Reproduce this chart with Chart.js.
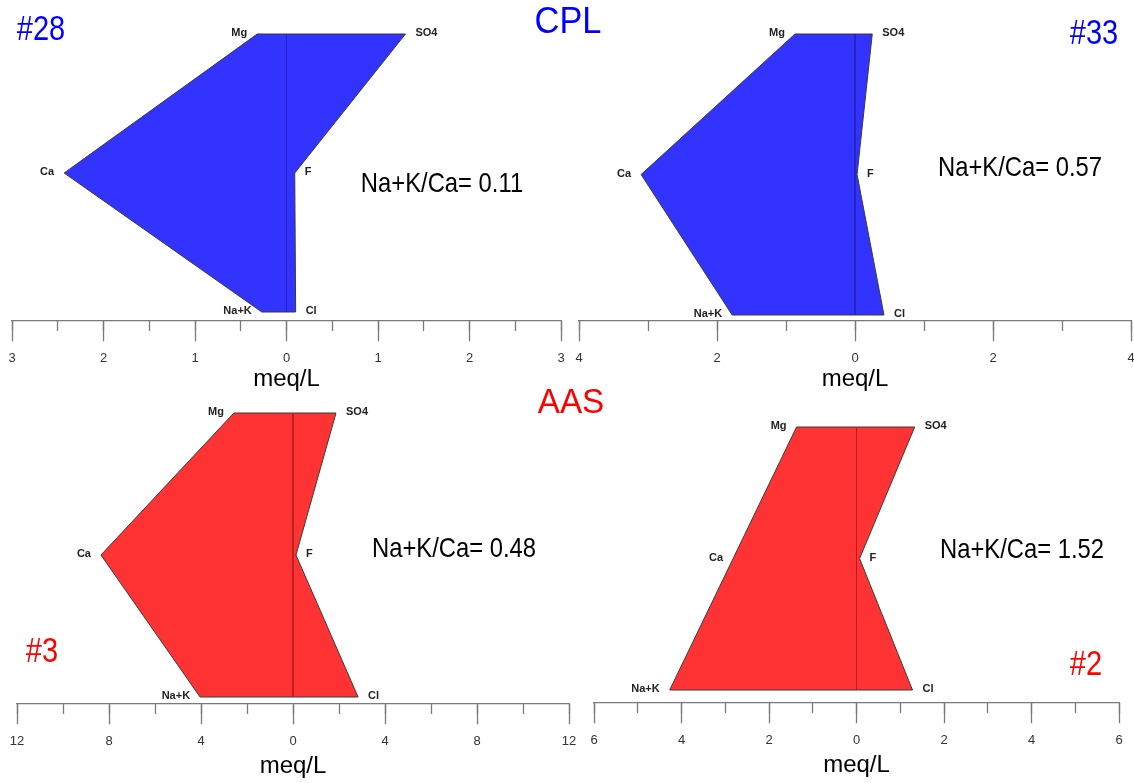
<!DOCTYPE html>
<html>
<head>
<meta charset="utf-8">
<script src="https://cdn.jsdelivr.net/npm/chart.js@4/dist/chart.umd.min.js"></script>
<style>
  body { margin: 0; background: #fff; }
  #wrap { position: relative; width: 1134px; height: 783px; overflow: hidden; }
  canvas { position: absolute; }
  .txt { position: absolute; transform: translate(-50%, -50%); white-space: nowrap; line-height: 1; }
  .narrow { font-family: "Liberation Sans Narrow", "Arial Narrow", "Liberation Sans", Arial, sans-serif; }
  .reg { font-family: "Liberation Sans", Arial, sans-serif; }
</style>
</head>
<body>
<div id="wrap"></div>
<script>
// ion order along each side, bottom to top
const cations = ['Na+K', 'Ca', 'Mg'];
const anions = ['Cl', 'F', 'SO4'];

// meq/L, same order as above
const s28Cations = [0.27, 2.43, 0.32];
const s28Anions = [0.10, 0.09, 1.30];
const s33Cations = [1.78, 3.10, 0.87];
const s33Anions = [0.42, 0.03, 0.25];
const s3Cations = [4.04, 8.35, 2.57];
const s3Anions = [2.83, 0.13, 1.87];
const s2Cations = [4.27, 2.82, 1.37];
const s2Anions = [1.28, 0.07, 1.33];

const ratioLabels = ['Na+K/Ca= 0.11', 'Na+K/Ca= 0.57', 'Na+K/Ca= 0.48', 'Na+K/Ca= 1.52'];
const sampleLabels = ['#28', '#33', '#3', '#2'];
const groupLabels = ['CPL', 'AAS'];

// axis ranges and tick steps per panel
const axisMax = [3, 4, 12, 6];
const majorStep = [1, 2, 4, 2];
const minorStep = [0.5, 1, 2, 1];

const BLUE = '#3333ff', RED = '#ff3333';

// page layout (pixels): axis ends, top/bottom vertex rows, axis line row
const panels = [
  { cations: s28Cations, anions: s28Anions, fill: BLUE, mid: '#2424b8',
    y0: 0, h: 392, xl: 12, xr: 561, top: 34, bot: 312, axis: 321 },
  { cations: s33Cations, anions: s33Anions, fill: BLUE, mid: '#2424b8',
    y0: 0, h: 392, xl: 579, xr: 1131, top: 34, bot: 315, axis: 321 },
  { cations: s3Cations, anions: s3Anions, fill: RED, mid: '#b41e1e',
    y0: 392, h: 391, xl: 17, xr: 569, top: 413, bot: 697, axis: 704 },
  { cations: s2Cations, anions: s2Anions, fill: RED, mid: '#b41e1e',
    y0: 392, h: 391, xl: 594, xr: 1119, top: 427, bot: 690, axis: 703 }
];

const wrap = document.getElementById('wrap');

// narrow text is faked with a horizontal squeeze (no condensed font installed)
function addText(str, x, y, size, color, cls, squeeze) {
  const d = document.createElement('div');
  d.className = 'txt ' + cls;
  d.textContent = str;
  d.style.left = x + 'px';
  d.style.top = y + 'px';
  d.style.fontSize = size + 'px';
  d.style.color = color;
  if (squeeze) d.style.transform = 'translate(-50%, -50%) scaleX(' + squeeze + ')';
  wrap.appendChild(d);
}

const ionLabels = {
  id: 'ionLabels',
  afterDatasetsDraw(chart) {
    const ctx = chart.ctx;
    const pts = chart.getDatasetMeta(0).data;
    const names = chart.options.plugins.ionLabels.names;
    ctx.save();
    ctx.font = 'bold 11px "Liberation Sans", Arial, sans-serif';
    ctx.fillStyle = '#222';
    ctx.textBaseline = 'middle';
    names.forEach((n, i) => {
      const p = pts[i];
      const left = i < 3;
      ctx.textAlign = left ? 'right' : 'left';
      ctx.fillText(n, p.x + (left ? -10 : 10), p.y - 1);
    });
    ctx.restore();
  }
};

panels.forEach((p, k) => {
  // canvas reaches 24px past each axis end so edge tick labels never squeeze the plot
  const bx = p.xl - 24, bw = p.xr - p.xl + 48, by = p.y0, bh = p.h;
  const cv = document.createElement('canvas');
  cv.style.left = bx + 'px';
  cv.style.top = by + 'px';
  cv.style.width = bw + 'px';
  cv.style.height = bh + 'px';
  cv.width = bw;
  cv.height = bh;
  wrap.appendChild(cv);

  const u = 2 / (p.bot - p.top); // y units per pixel
  const yMax = 3 + 6 * u;
  const yMin = 1 - (p.axis - p.bot) * u;
  const m = axisMax[k];

  // polygon: Mg, Ca, Na+K on the left, then Cl, F, SO4 on the right
  const poly = [
    { x: -p.cations[2], y: 3 },
    { x: -p.cations[1], y: 2 },
    { x: -p.cations[0], y: 1 },
    { x: p.anions[0], y: 1 },
    { x: p.anions[1], y: 2 },
    { x: p.anions[2], y: 3 },
    { x: -p.cations[2], y: 3 }
  ];

  const tickGrid = (len) => ({
    display: true, drawOnChartArea: false, drawTicks: true,
    tickLength: len, tickColor: '#7a7a7a', tickWidth: 1.3
  });

  new Chart(cv, {
    type: 'scatter',
    data: {
      datasets: [
        {
          data: poly, showLine: true, fill: 'shape', order: 2,
          backgroundColor: p.fill, borderColor: '#3a3a3a', borderWidth: 1,
          pointRadius: 0, tension: 0
        },
        {
          data: [{ x: 0, y: 3 }, { x: 0, y: 1 }], showLine: true, order: 1,
          borderColor: p.mid, borderWidth: 1, pointRadius: 0
        }
      ]
    },
    options: {
      responsive: false,
      animation: false,
      layout: {
        padding: {
          left: p.xl - bx,
          right: bx + bw - p.xr,
          top: p.top - 6 - by,
          bottom: by + bh - p.axis
        }
      },
      plugins: {
        legend: { display: false },
        tooltip: { enabled: false },
        ionLabels: { names: [cations[2], cations[1], cations[0], anions[0], anions[1], anions[2]] }
      },
      scales: {
        y: { display: false, min: yMin, max: yMax },
        x: {
          type: 'linear', axis: 'x', min: -m, max: m,
          position: { y: yMin },
          grid: tickGrid(20),
          border: { display: true, color: '#7a7a7a', width: 1.3 },
          ticks: {
            stepSize: majorStep[k], autoSkip: false, maxRotation: 0, padding: 10,
            color: '#333', font: { family: '"Liberation Sans", Arial, sans-serif', size: 13 },
            callback: (v) => Math.abs(v)
          }
        },
        xm: {
          type: 'linear', axis: 'x', min: -m, max: m,
          position: { y: yMin },
          grid: tickGrid(10),
          border: { display: false },
          ticks: { stepSize: minorStep[k], autoSkip: false, display: false }
        }
      }
    },
    plugins: [ionLabels]
  });

  const zero = (p.xl + p.xr) / 2;
  addText('meq/L', zero, p.axis + (k < 2 ? 57 : 61), 24, '#000', 'reg');
});

// ratio annotations
addText(ratioLabels[0], 442, 183, 28, '#000', 'narrow', 0.85);
addText(ratioLabels[1], 1020, 167, 28, '#000', 'narrow', 0.85);
addText(ratioLabels[2], 454, 548, 28, '#000', 'narrow', 0.85);
addText(ratioLabels[3], 1022, 549, 28, '#000', 'narrow', 0.85);

// sample numbers and group names
addText(sampleLabels[0], 41, 27, 35, '#0000ff', 'narrow', 0.83);
addText(sampleLabels[1], 1094, 31, 35, '#0000ff', 'narrow', 0.83);
addText(sampleLabels[2], 42, 649, 35, '#ff0000', 'narrow', 0.83);
addText(sampleLabels[3], 1086, 662, 35, '#ff0000', 'narrow', 0.83);
addText(groupLabels[0], 568, 20, 37, '#0000ff', 'reg', 0.93);
addText(groupLabels[1], 571, 400, 35, '#ff0000', 'reg', 0.95);
</script>
</body>
</html>
